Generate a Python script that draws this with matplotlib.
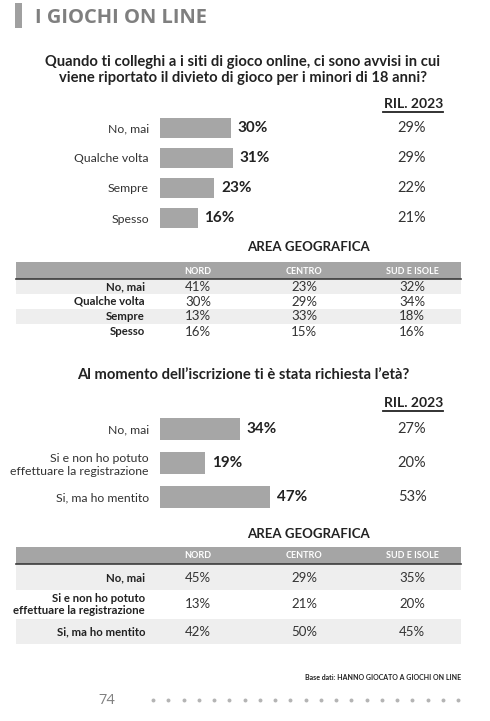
import matplotlib
matplotlib.use("Agg")
import matplotlib.pyplot as plt
from matplotlib.patches import Rectangle
from matplotlib import transforms

# ---------------------------------------------------------------------------
# Data

q1_title = ("Quando ti colleghi a i siti di gioco online, ci sono avvisi in cui\n"
            "viene riportato il divieto di gioco per i minori di 18 anni?")
q1_labels = ["No, mai", "Qualche volta", "Sempre", "Spesso"]
q1_values = [30, 31, 23, 16]
q1_prev = [29, 29, 22, 21]

t1_rows = ["No, mai", "Qualche volta", "Sempre", "Spesso"]
t1_nord = [41, 30, 13, 16]
t1_centro = [23, 29, 33, 15]
t1_sud = [32, 34, 18, 16]

q2_title = "Al momento dell\u2019iscrizione ti è stata richiesta l\u2019età?"
q2_labels = ["No, mai", "Si e non ho potuto\neffettuare la registrazione",
             "Si, ma ho mentito"]
q2_values = [34, 19, 47]
q2_prev = [27, 20, 53]

t2_rows = ["No, mai", "Si e non ho potuto\neffettuare la registrazione",
           "Si, ma ho mentito"]
t2_nord = [45, 13, 42]
t2_centro = [29, 21, 50]
t2_sud = [35, 20, 45]

columns = ["NORD", "CENTRO", "SUD E ISOLE"]

# ---------------------------------------------------------------------------

W, H = 490, 721
BAR = "#a6a6a6"
TXT = "#222222"
FONT = ["Lato", "DejaVu Sans"]
plt.rcParams["font.family"] = FONT

fig = plt.figure(figsize=(W / 100, H / 100), dpi=100)
fig.patch.set_facecolor("white")

# page axes in pixel coordinates for free text and table decoration
bg = fig.add_axes([0, 0, 1, 1])
bg.set_xlim(0, W)
bg.set_ylim(H, 0)
bg.axis("off")


def px_axes(x0, y0, w, h):
    return fig.add_axes([x0 / W, 1 - (y0 + h) / H, w / W, h / H])


# page header
bg.add_patch(Rectangle((15, 3), 7, 25, color="#a0a0a0", lw=0))
bg.text(35, 23, "I GIOCHI ON LINE", fontsize=14.5, fontweight="bold",
        color="#7f7f7f", family=["Open Sans", "DejaVu Sans"], va="baseline")


def bar_block(top, step, labels, values, prev, bar_h, ril_y):
    n = len(values)
    ax = px_axes(160, top, 235, step * n)
    ypos = list(range(n))
    ax.barh(ypos, values, height=bar_h, color=BAR, lw=0)
    ax.set_xlim(0, 100)
    ax.set_ylim(n - 0.5, -0.5)
    for s in ax.spines.values():
        s.set_visible(False)
    ax.set_xticks([])
    ax.set_yticks(ypos)
    ax.set_yticklabels(labels, fontsize=8.8, color="#333333",
                       linespacing=1.25)
    ax.tick_params(axis="y", length=0, pad=8)
    for y, v in zip(ypos, values):
        ax.annotate(f"{v}%", (v, y), xytext=(5, 0), textcoords="offset points",
                    fontsize=11, fontweight="bold", color=TXT, va="center")
    tr = transforms.blended_transform_factory(bg.transData, ax.transData)
    for y, v in zip(ypos, prev):
        ax.text(412, y, f"{v}%", transform=tr, fontsize=10.5, color="#333333",
                ha="center", va="center")
    # RIL. 2023 header, underlined
    bg.text(414, ril_y, "RIL. 2023", fontsize=10, fontweight="bold",
            color=TXT, ha="center", va="center")
    bg.plot([383, 443], [ril_y + 8, ril_y + 8], color=TXT, lw=1.3)
    return ax


def table_block(title_y, head_top, row_heights, rows, nord, centro, sud):
    bg.text(308, title_y, "AREA GEOGRAFICA", fontsize=9.5, fontweight="bold",
            color=TXT, ha="center", va="center")
    head_h = 17
    bg.add_patch(Rectangle((16, head_top), 445, head_h, color="#a5a5a5", lw=0))
    bg.plot([16, 461], [head_top + head_h, head_top + head_h],
            color="#3a3a3a", lw=1.2)
    col_x = [198, 304, 412]
    for cx, name in zip(col_x, columns):
        bg.text(cx, head_top + head_h / 2 + 0.5, name, fontsize=6.5,
                fontweight="bold", color="white", ha="center", va="center")
    y = head_top + head_h + 1
    for i, (rh, lab) in enumerate(zip(row_heights, rows)):
        if i % 2 == 0:
            bg.add_patch(Rectangle((16, y), 445, rh, color="#eeeeee", lw=0))
        cy = y + rh / 2
        bg.text(145, cy, lab, fontsize=8.2, fontweight="bold", color=TXT,
                ha="right", va="center", linespacing=1.15)
        for cx, vals in zip(col_x, (nord, centro, sud)):
            bg.text(cx, cy, f"{vals[i]}%", fontsize=9.5, color="#333333",
                    ha="center", va="center")
        y += rh


# section 1
bg.text(243, 70, q1_title, fontsize=10.6, fontweight="bold", color=TXT,
        ha="center", va="center", linespacing=1.25)
bar_block(113, 30, q1_labels, q1_values, q1_prev, 0.65, 104)
table_block(247, 262, [14, 15, 15, 15], t1_rows, t1_nord, t1_centro, t1_sud)

# section 2
bg.text(243, 375, q2_title, fontsize=10.6, fontweight="bold", color=TXT,
        ha="center", va="center")
bar_block(412, 34, q2_labels, q2_values, q2_prev, 0.62, 403)
table_block(534, 547, [25, 29, 25], t2_rows, t2_nord, t2_centro, t2_sud)

# footer
bg.text(461, 677, "Base dati: HANNO GIOCATO A GIOCHI ON LINE", fontsize=5,
        fontweight="bold", color=TXT, ha="right", va="center")
bg.text(107, 700, "74", fontsize=10.5, color="#808080", ha="center",
        va="center", family=["Open Sans", "DejaVu Sans"])
dots_x = [153 + 15.25 * i for i in range(21)]
bg.scatter(dots_x, [700] * len(dots_x), s=8, color="#b4b4b4", lw=0)

fig.savefig("out.png", dpi=100, facecolor="white")
